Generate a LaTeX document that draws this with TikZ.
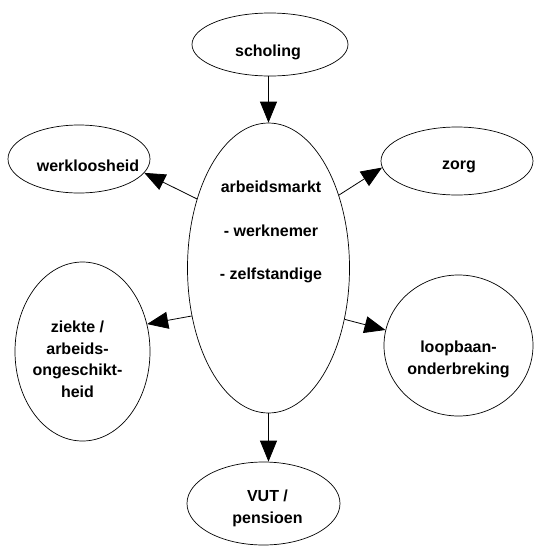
\documentclass[tikz,border=0pt]{standalone}
\usepackage{fontspec}
\setmainfont{Liberation Sans}
\usetikzlibrary{shapes.geometric}
\usetikzlibrary{arrows.meta}

\begin{document}
\begin{tikzpicture}[
    x=1pt, y=-1pt,
    bubble/.style={
        ellipse, draw=black, line width=0.7pt,
        inner sep=0pt
    },
    tekst/.style={
        inner sep=0pt, align=center,
        font=\fontsize{16}{21.5}\selectfont\bfseries
    },
    link/.style={
        line width=0.8pt,
        -{Triangle[length=21pt,width=17pt]}
    }
]
\useasboundingbox (0,0) rectangle (534,547);

% de ellipsen
\node[bubble, minimum width=156pt, minimum height=63pt]  (schol) at (270,44.5)    {};
\node[bubble, minimum width=162pt, minimum height=290pt] (markt) at (268.5,268)   {};
\node[bubble, minimum width=142pt, minimum height=68pt]  (werk)  at (79,159)      {};
\node[bubble, minimum width=152pt, minimum height=68pt]  (zorg)  at (457,161)     {};
\node[bubble, minimum width=135pt, minimum height=179pt] (ziek)  at (82.5,351.5)  {};
\node[bubble, minimum width=149pt, minimum height=141pt] (loop)  at (458.5,345.5) {};
\node[bubble, minimum width=153pt, minimum height=83pt]  (vut)   at (263.5,503.5) {};

% de teksten
\node[tekst] (scholtxt) at ([xshift=-2pt,yshift=-8pt]schol) {scholing};
\node[tekst] (markttxt) at (271,232)
    {arbeidsmarkt\\[22pt]- werknemer\\[22pt]- zelfstandige};
\node[tekst] (werktxt)  at ([xshift=9pt,yshift=-7pt]werk)   {werkloosheid};
\node[tekst] (zorgtxt)  at ([xshift=2pt,yshift=-6pt]zorg)   {zorg};
\node[tekst] (ziektxt)  at ([xshift=-5pt,yshift=-8pt]ziek)
    {ziekte /\\arbeids-\\ongeschikt-\\heid};
\node[tekst] (looptxt)  at ([yshift=-14pt]loop) {loopbaan-\\onderbreking};
\node[tekst] (vuttxt)   at ([xshift=4pt,yshift=-5pt]vut)    {VUT /\\pensioen};

% de pijlen
\draw[link] (markt.north |- schol.south) -- (markt.north);
\draw[link] (markt.136) -- (werk.-12);
\draw[link] (markt.46) -- (zorg.185);
\draw[link] (markt.212) -- (ziek.23);
\draw[link] (markt.-34) -- (loop.168);
\draw[link] (markt.south) -- (markt.south |- vut.north);
\end{tikzpicture}
\end{document}
